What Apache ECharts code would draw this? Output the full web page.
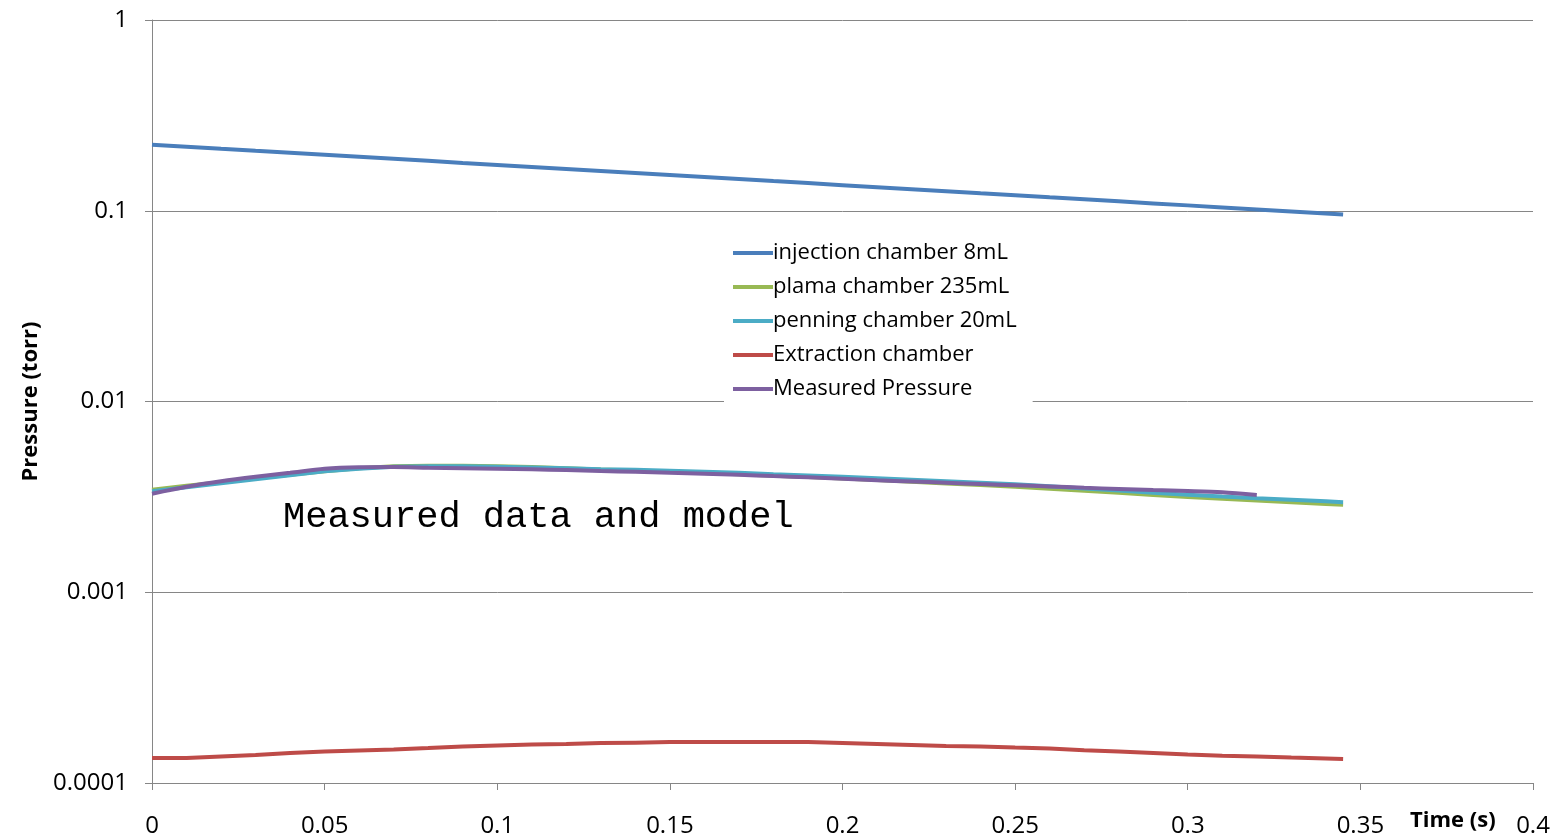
<!DOCTYPE html>
<html>
<head>
<meta charset="utf-8">
<script src="https://cdn.jsdelivr.net/npm/echarts@6/dist/echarts.min.js"></script>
<style>
html,body{margin:0;padding:0;background:#fff;}
#chart{width:1558px;height:838px;}
</style>
</head>
<body>
<div id="chart"></div>
<script>
// Time (s)
var timeModel = [0,0.01,0.02,0.03,0.04,0.05,0.06,0.07,0.08,0.09,0.10,0.11,0.12,0.13,0.14,0.15,0.16,0.17,0.18,0.19,0.20,0.21,0.22,0.23,0.24,0.25,0.26,0.27,0.28,0.29,0.30,0.31,0.32,0.33,0.34,0.345];
var timeMeasured = [0,0.01,0.02,0.03,0.04,0.05,0.06,0.07,0.08,0.09,0.10,0.11,0.12,0.13,0.14,0.15,0.16,0.17,0.18,0.19,0.20,0.21,0.22,0.23,0.24,0.25,0.26,0.27,0.28,0.29,0.30,0.31,0.32];

// Pressure (torr)
var injection = [0.222,0.2167,0.2114,0.2063,0.2014,0.1965,0.1917,0.1871,0.1826,0.1781,0.1738,0.1697,0.1656,0.1616,0.1577,0.1539,0.1502,0.1466,0.1430,0.1396,0.1362,0.1329,0.1297,0.1266,0.1235,0.1206,0.1176,0.1148,0.1120,0.1093,0.1067,0.1041,0.1016,0.0992,0.0968,0.0956];
var plasma = [3.446e-3,3.616e-3,3.771e-3,3.957e-3,4.128e-3,4.305e-3,4.464e-3,4.573e-3,4.611e-3,4.611e-3,4.573e-3,4.529e-3,4.464e-3,4.400e-3,4.347e-3,4.280e-3,4.218e-3,4.153e-3,4.078e-3,4.015e-3,3.943e-3,3.873e-3,3.794e-3,3.717e-3,3.646e-3,3.572e-3,3.487e-3,3.404e-3,3.323e-3,3.237e-3,3.160e-3,3.092e-3,3.026e-3,2.964e-3,2.901e-3,2.876e-3];
var penning = [3.384e-3,3.551e-3,3.726e-3,3.910e-3,4.103e-3,4.305e-3,4.437e-3,4.545e-3,4.573e-3,4.573e-3,4.545e-3,4.507e-3,4.464e-3,4.410e-3,4.384e-3,4.331e-3,4.280e-3,4.228e-3,4.153e-3,4.093e-3,4.030e-3,3.957e-3,3.887e-3,3.817e-3,3.749e-3,3.682e-3,3.594e-3,3.500e-3,3.417e-3,3.323e-3,3.244e-3,3.175e-3,3.111e-3,3.055e-3,3.000e-3,2.964e-3];
var extraction = [1.351e-4,1.351e-4,1.376e-4,1.401e-4,1.435e-4,1.461e-4,1.479e-4,1.497e-4,1.524e-4,1.552e-4,1.571e-4,1.590e-4,1.599e-4,1.619e-4,1.628e-4,1.638e-4,1.638e-4,1.638e-4,1.638e-4,1.638e-4,1.619e-4,1.599e-4,1.580e-4,1.561e-4,1.552e-4,1.533e-4,1.515e-4,1.487e-4,1.461e-4,1.435e-4,1.409e-4,1.391e-4,1.376e-4,1.359e-4,1.343e-4,1.335e-4];
var measured = [3.284e-3,3.572e-3,3.817e-3,4.030e-3,4.228e-3,4.437e-3,4.518e-3,4.529e-3,4.491e-3,4.464e-3,4.437e-3,4.410e-3,4.368e-3,4.321e-3,4.280e-3,4.228e-3,4.178e-3,4.128e-3,4.064e-3,4.005e-3,3.934e-3,3.863e-3,3.808e-3,3.749e-3,3.691e-3,3.638e-3,3.585e-3,3.530e-3,3.479e-3,3.433e-3,3.396e-3,3.344e-3,3.233e-3];

var seriesNames = ['injection chamber 8mL','plama chamber 235mL','penning chamber 20mL','Extraction chamber','Measured Pressure'];
var yTickLabels = ['0.0001','0.001','0.01','0.1','1'];
var xTickLabels = ['0','0.05','0.1','0.15','0.2','0.25','0.3','0.35','0.4'];

function pairs(t, v){ return v.map(function(y,i){ return [t[i], y]; }); }

var colors = ['#4A7EBB','#98B954','#4BACC6','#BE4B48','#7D60A0'];
var dataSets = [pairs(timeModel,injection), pairs(timeModel,plasma), pairs(timeModel,penning), pairs(timeModel,extraction), pairs(timeMeasured,measured)];

var chart = echarts.init(document.getElementById('chart'), null, {renderer:'canvas'});
var axisColor = '#868686';
var option = {
  animation: false,
  backgroundColor: '#ffffff',
  grid: {left:152, right:25, top:20, bottom:53, containLabel:false},
  legend: {
    orient: 'vertical',
    left: 724, top: 234,
    padding: [8, 16, 8, 9],
    backgroundColor: '#ffffff',
    icon: 'rect',
    itemWidth: 40, itemHeight: 4, itemGap: 12,
    textStyle: {fontFamily:'Open Sans', fontSize:22, lineHeight:22, color:'#000', padding:[0,0,0,-5]},
    data: seriesNames,
    z: 10
  },
  xAxis: {
    type: 'value', min: 0, max: 0.4, interval: 0.05,
    axisLine: {show:true, onZero:false, lineStyle:{color:axisColor, width:1}},
    axisTick: {show:true, length:7, lineStyle:{color:axisColor}},
    splitLine: {show:false},
    axisLabel: {
      margin: 31, color:'#000', fontFamily:'Open Sans', fontSize:24,
      formatter: function(v){ return xTickLabels[Math.round(v/0.05)]; }
    }
  },
  yAxis: {
    type: 'log', logBase: 10, min: 0.0001, max: 1,
    axisLine: {show:true, onZero:false, lineStyle:{color:axisColor, width:1}},
    axisTick: {show:true, length:7, lineStyle:{color:axisColor}},
    splitLine: {show:true, lineStyle:{color:axisColor, width:1}},
    minorTick: {show:false},
    axisLabel: {
      margin: 24, color:'#000', fontFamily:'Open Sans', fontSize:24,
      formatter: function(v){ return yTickLabels[Math.round(Math.log10(v)) + 4]; }
    },
    name: 'Pressure (torr)',
    nameLocation: 'middle',
    nameGap: 110,
    nameRotate: 90,
    nameTextStyle: {fontFamily:'Open Sans', fontWeight:'bold', fontSize:22, color:'#000'}
  },
  graphic: [
    {type:'text', left:1410, top:810, style:{text:'Time (s)', font:'bold 22px "Open Sans"', fill:'#000'}},
    {type:'text', left:283, top:499, style:{text:'Measured data and model', font:'37px "Liberation Mono"', fill:'#000'}, z: 20}
  ],
  series: seriesNames.map(function(n,i){
    return {
      name: n, type: 'line', data: dataSets[i],
      symbol: 'none', showSymbol: false,
      smooth: i === 4 ? 0.3 : false,
      lineStyle: {color: colors[i], width: 4},
      itemStyle: {color: colors[i]},
      z: 2 + i
    };
  })
};
chart.setOption(option);
</script>
</body>
</html>
